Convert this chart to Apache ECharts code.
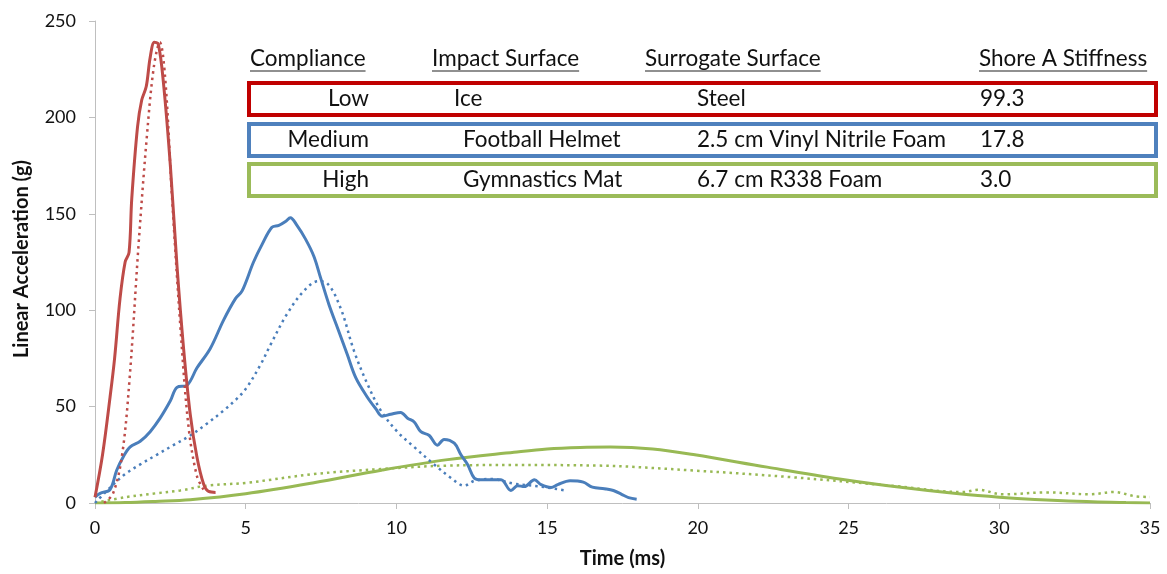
<!DOCTYPE html>
<html lang="en">
<head>
    <meta charset="UTF-8">
    <title>Linear acceleration vs time</title>
    <script src="https://cdn.jsdelivr.net/npm/echarts@6/dist/echarts.min.js"></script>
</head>
<body style="margin:0;">
<div id="pic1" style="width:1167px;height:574px;"></div>

<script>
    // curves: [time ms, acceleration g]
    var lowMeasured = [[0,3],[0.25,25],[0.5,55],[0.65,75],[0.83,106],[1.0,125],[1.13,130],[1.22,158],[1.41,195],[1.55,209],[1.7,216],[1.83,231],[1.97,239],[2.1,238],[2.27,218],[2.5,175],[2.72,123],[2.94,80],[3.16,46],[3.38,24],[3.6,10],[3.77,6],[4.0,5.5]];
    var lowModel = [[0.3,0],[0.6,5],[0.9,25],[1.15,65],[1.45,135],[1.72,190],[1.95,226],[2.15,239],[2.33,220],[2.55,160],[2.83,92],[3.1,40],[3.38,14],[3.6,7]];
    var mediumMeasured = [[0,3],[0.17,5],[0.5,7],[0.72,17],[0.94,24],[1.16,29],[1.5,32],[1.83,37],[2.16,44],[2.5,53],[2.72,60],[3.05,61],[3.38,70],[3.82,80],[4.27,95],[4.66,106],[4.88,110],[5.26,125],[5.54,134],[5.87,143],[6.1,144],[6.32,146],[6.48,148],[6.7,144],[6.98,137],[7.26,128],[7.48,117],[7.76,103],[8.09,89],[8.37,77],[8.65,65],[9.03,55],[9.31,49],[9.53,45],[9.81,46],[10.14,47],[10.37,44],[10.59,42],[10.81,37],[11.09,35],[11.36,30],[11.58,33],[11.92,31],[12.14,25],[12.36,20],[12.58,13],[12.8,12],[13.14,12],[13.47,12],[13.8,6.5],[14.02,9],[14.24,8.5],[14.58,12],[14.8,9.5],[15.13,8],[15.35,9.5],[15.76,11.5],[16.2,10.8],[16.5,8.2],[16.9,7.4],[17.2,6.5],[17.47,4.5],[17.7,2.8],[17.97,2]];
    var mediumModel = [[0,0],[0.5,8],[1,15],[1.5,20],[2.05,25],[2.6,30],[3.16,35],[3.7,41],[4.27,48],[4.7,54],[5.04,60],[5.5,72],[5.82,82],[6.37,98],[6.93,110],[7.4,115],[7.7,114],[8.15,101],[8.59,79],[9.03,62],[9.48,48],[10.03,37],[10.59,29],[11.25,20],[11.81,13],[12.25,9],[12.58,11.5],[13.14,12.5],[13.9,10],[14.8,8.5],[15.6,6.5]];
    var highMeasured = [[0,0],[1,0.2],[2,0.8],[3.16,1.7],[5,4.8],[7.26,10.5],[9.5,17],[11.7,22.5],[13.9,26.3],[15,28],[16.1,28.8],[17.1,29],[18.5,28],[19.9,25],[22.3,18.6],[24.7,12.5],[26.8,8],[28.5,5],[30,3],[32.3,1],[34.2,0.2],[35,0]];
    var highModel = [[0,0],[1,3],[2,5],[2.83,6.5],[3.7,9],[5.04,10.5],[7.26,15],[9.48,17.6],[11.7,19.4],[13.9,19.7],[16.7,19.4],[19.9,16.8],[23.1,13.4],[26.4,9],[28.8,5.7],[29.3,6.9],[30.1,4.5],[31.6,5.5],[33,4.5],[33.8,5.7],[34.5,3.5],[35,3.1]];

    var lineColors = ['#BE4B48', '#4A7EBB', '#98B954'];

    // table shown over the plot
    var tableHeaders = ['Compliance', 'Impact Surface', 'Surrogate Surface', 'Shore A Stiffness'];
    var complianceLevels = ['Low', 'Medium', 'High'];
    var impactSurfaces = ['Ice', 'Football Helmet', 'Gymnastics Mat'];
    var surrogateSurfaces = ['Steel', '2.5 cm Vinyl Nitrile Foam', '6.7 cm R338 Foam'];
    var shoreStiffness = ['99.3', '17.8', '3.0'];
    var boxColors = ['#C00000', '#4F81BD', '#9BBB59'];

    var tableFont = '22.5px Lato';
    var ctx = document.createElement('canvas').getContext('2d');
    ctx.font = tableFont;

    var headerX = [250, 432, 645, 979];
    var rowY = [99, 140, 180];
    var graphics = [];
    tableHeaders.forEach(function (h, i) {
        var w = ctx.measureText(h).width;
        graphics.push({type: 'text', x: headerX[i], y: 59,
            style: {text: h, font: tableFont, fill: '#111', verticalAlign: 'middle'}});
        graphics.push({type: 'line', shape: {x1: headerX[i], y1: 71, x2: headerX[i] + w, y2: 71},
            style: {stroke: '#222', lineWidth: 1.2}});
    });
    boxColors.forEach(function (c, i) {
        graphics.push({type: 'rect', shape: {x: 249, y: rowY[i] - 16, width: 907, height: 32},
            style: {fill: '#fff', stroke: c, lineWidth: 4}});
        graphics.push({type: 'text', x: 369, y: rowY[i],
            style: {text: complianceLevels[i], font: tableFont, fill: '#111', align: 'right', verticalAlign: 'middle'}});
        graphics.push({type: 'text', x: i === 0 ? 454 : 463, y: rowY[i],
            style: {text: impactSurfaces[i], font: tableFont, fill: '#111', verticalAlign: 'middle'}});
        graphics.push({type: 'text', x: 697, y: rowY[i],
            style: {text: surrogateSurfaces[i], font: tableFont, fill: '#111', verticalAlign: 'middle'}});
        graphics.push({type: 'text', x: 980, y: rowY[i],
            style: {text: shoreStiffness[i], font: tableFont, fill: '#111', verticalAlign: 'middle'}});
    });
    // y axis title
    graphics.push({type: 'text', x: 22, y: 259, rotation: Math.PI / 2,
        style: {text: 'Linear Acceleration (g)', font: 'bold 20px Lato', fill: '#111',
            align: 'center', verticalAlign: 'middle'}});

    function curve(name, data, color, dotted) {
        return {
            name: name,
            type: 'line',
            data: data,
            smooth: 0.35,
            showSymbol: false,
            silent: true,
            lineStyle: dotted
                ? {color: color, width: 2.5, type: [2.5, 4]}
                : {color: color, width: 3}
        };
    }

    var myCharts1 = echarts.init(document.getElementById('pic1'));
    var option1 = {
        backgroundColor: 'white',
        animation: false,
        textStyle: {fontFamily: 'Lato'},
        grid: {left: 95, right: 17, top: 21, bottom: 68},
        xAxis: {
            type: 'value',
            min: 0, max: 35, interval: 5,
            name: 'Time (ms)',
            nameLocation: 'middle',
            nameGap: 46,
            nameTextStyle: {fontWeight: 'bold', fontSize: 20, color: '#111'},
            axisLine: {lineStyle: {color: '#BFBFBF'}},
            axisTick: {lineStyle: {color: '#BFBFBF'}, length: 6},
            axisLabel: {fontSize: 18, color: '#111', margin: 16},
            splitLine: {show: false}
        },
        yAxis: {
            type: 'value',
            min: 0, max: 250, interval: 50,
            axisLine: {show: true, lineStyle: {color: '#BFBFBF'}},
            axisTick: {show: true, lineStyle: {color: '#BFBFBF'}, length: 6},
            axisLabel: {fontSize: 18, color: '#111', margin: 19},
            splitLine: {show: false}
        },
        series: [
            curve('High model', highModel, lineColors[2], true),
            curve('High', highMeasured, lineColors[2], false),
            curve('Medium model', mediumModel, lineColors[1], true),
            curve('Medium', mediumMeasured, lineColors[1], false),
            curve('Low model', lowModel, lineColors[0], true),
            curve('Low', lowMeasured, lineColors[0], false)
        ],
        graphic: graphics
    };
    myCharts1.setOption(option1);
</script>
</body>
</html>
